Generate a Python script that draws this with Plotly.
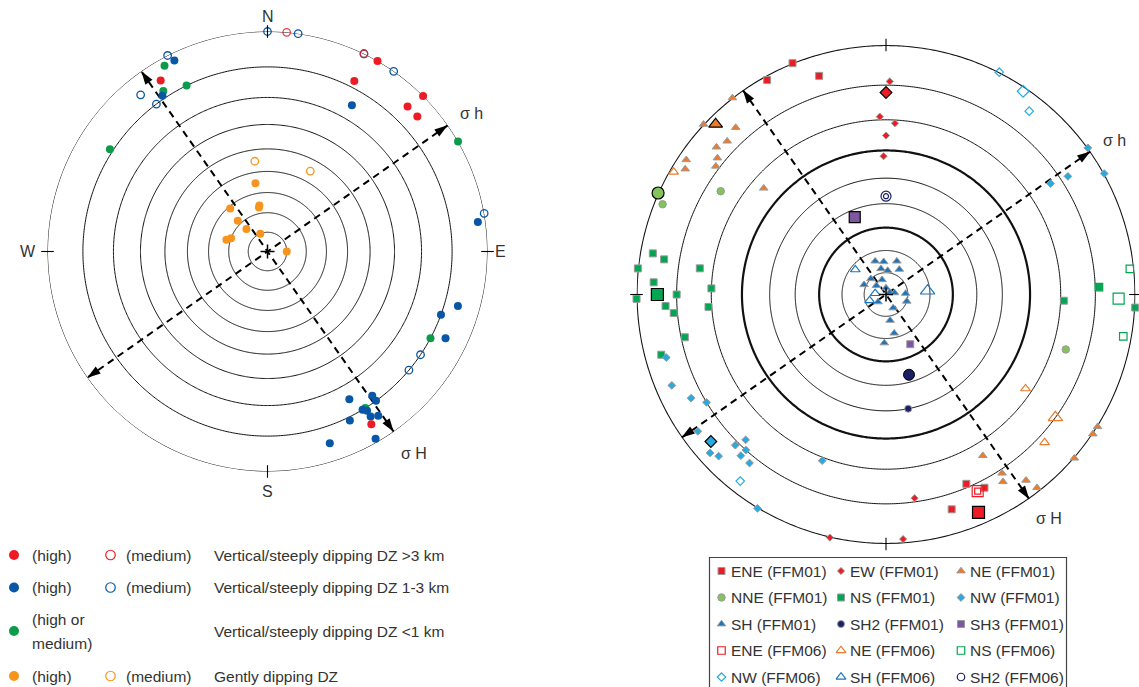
import numpy as np
import plotly.graph_objects as go

W, H = 1139, 687
FONT = "Liberation Sans, Arial, sans-serif"
TXT = "#333333"

# ================= DATA (trend deg, plunge deg) =================
# Left stereonet - deformation zones
dz_gt3_high = [(30, 0), (27, 8), (45, 0), (44, 5), (48, 5), (328, 5), (149, 5)]
dz_gt3_med = [(5, 0), (26, 0)]
dz_1to3_high = [(334, 2), (326, 9), (30, 15), (82, 2), (106, 6), (110, 10), (116, 6),
                (144, 12), (144, 10), (151, 15), (149, 10), (148, 9), (148, 7),
                (146, 6), (154, 9), (162, 5), (150, 1)]
dz_1to3_med = [(0, 0), (8, 0), (35, 0), (333, 0), (321, 5), (323, 10), (80, 0),
               (124, 10), (130, 10), (26, 0)]
dz_lt1 = [(331, 2), (334, 10), (327, 8), (303, 9), (60, 0), (118, 10), (148, 10)]
gentle_high = [(350, 55), (350, 66), (349, 67), (319, 61), (316, 68), (317, 74),
               (338, 80), (286, 68), (290, 70), (90, 80)]
gentle_med = [(352, 45), (28, 45)]

# Right stereonet - fracture sets
ene_ffm01 = [(338, 0), (331, 1), (343, 5), (157, 11), (153, 8), (163, 6)]
ene_ffm01_mean = [(157, 3)]
ew_ffm01 = [(1, 9), (358, 19), (3, 21), (0, 25), (359, 32), (172, 11), (193, 0), (176, 1)]
ew_ffm01_mean = [(0, 12)]
ne_ffm01 = [(322, 0), (313, 0), (318, 6), (314, 7), (311, 6), (304, 2), (309, 8),
            (307, 9), (302, 3), (311, 24), (149, 16), (147, 9), (148, 7), (143, 4),
            (142, 1), (131, 0), (124, 0), (122, 0)]
ne_ffm01_mean = [(315, 2)]
nne_ffm01 = [(292, 2), (302, 14), (107, 16)]
nne_ffm01_mean = [(294, 0)]
ns_ffm01 = [(280, 3), (279, 6), (276, 0), (278, 16), (273, 4), (272, 20), (270, 10),
            (269, 0), (267, 7), (265, 9), (266, 19), (258, 11), (255, 4), (92, 19),
            (93, 0), (88, 9)]
ns_ffm01_mean = [(270, 5)]
nw_ffm01 = [(254, 5), (247, 4), (242, 7), (239, 10), (234, 4), (224, 12), (225, 9),
            (222, 10), (228, 3), (226, 4), (222, 8), (219, 8), (201, 19), (211, 0),
            (54, 0), (57, 8), (61, 0), (56, 13)]
nw_ffm01_mean = [(230, 5)]
sh_ffm01 = [(342, 74), (356, 75), (18, 74), (349, 78), (4, 79), (28, 77), (316, 80),
            (345, 83), (294, 79), (313, 84), (0, 87), (60, 88), (79, 86), (87, 81),
            (227, 85), (108, 80), (152, 83), (171, 78), (168, 72), (182, 68)]
sh2_ffm01 = [(169, 40)]
sh2_ffm01_mean = [(164, 53)]
sh3_ffm01 = [(154, 65)]
sh3_ffm01_mean = [(338, 53)]
ene_ffm06 = [(155, 8)]
ene_ffm06_mean = [(155, 8)]
ne_ffm06 = [(300, 1), (124, 22), (133, 8)]
ne_ffm06_mean = [(126, 10)]
ns_ffm06 = [(84, 1), (88, 9), (100, 2)]
ns_ffm06_mean = [(91, 4)]
nw_ffm06 = [(27, 0), (38, 4), (218, 3)]
nw_ffm06_mean = [(34, 1)]
sh_ffm06 = [(309, 72), (276, 85), (250, 82)]
sh_ffm06_mean = [(85, 71)]
sh2_ffm06 = [(0, 47)]
sh2_ffm06_mean = [(0, 47)]

# stress directions (trend) and net rings (plunge)
sigma_H_trend = 145
sigma_h_trend = 55
ring_plunges = [0, 10, 20, 30, 40, 50, 60, 70, 80]
bold_rings_right = [0, 30, 60]
cardinal = ["N", "E", "S", "W"]

left_legend_rows = [
    ("(high)", "(medium)", "Vertical/steeply dipping DZ >3 km"),
    ("(high)", "(medium)", "Vertical/steeply dipping DZ 1-3 km"),
    ("(high or|medium)", None, "Vertical/steeply dipping DZ <1 km"),
    ("(high)", "(medium)", "Gently dipping DZ"),
]
right_legend_labels = ["ENE (FFM01)", "EW (FFM01)", "NE (FFM01)",
                       "NNE (FFM01)", "NS (FFM01)", "NW (FFM01)",
                       "SH (FFM01)", "SH2 (FFM01)", "SH3 (FFM01)",
                       "ENE (FFM06)", "NE (FFM06)", "NS (FFM06)",
                       "NW (FFM06)", "SH (FFM06)", "SH2 (FFM06)"]


def wulff_r(plunge):
    return np.tan(np.radians(90.0 - np.asarray(plunge, float)) / 2.0)


# ================= STYLE / LAYOUT =================
RED = "#ED1C24"
BLUE_L = "#0757A6"
GREEN_L = "#0B9B4A"
ORANGE_L = "#F7941D"
ORANGE_R = "#EC7B2C"
LGREEN = "#84C35A"
GREEN_R = "#00A651"
CYAN = "#27AAE1"
BLUE_R = "#1B75BC"
NAVY = "#1B1F63"
PURPLE = "#7E57A1"
GRAY = "#9b9b9b"

fig = go.Figure()

# geometry (pixels)
L_C, L_R = (267.5, 251.5), 220.0
R_C, R_R = (886.0, 294.5), 249.5

ann = []


def dom(c, R):
    return dict(x=[(c[0] - R) / W, (c[0] + R) / W],
                y=[1 - (c[1] + R) / H, 1 - (c[1] - R) / H])


def polar_label(c, R, theta, rr, text, size=16):
    t = np.radians(theta)
    ann.append(dict(x=c[0] + rr * R * np.sin(t), y=c[1] - rr * R * np.cos(t),
                    text=text, xanchor="center", size=size))


def add_pts(pts, sp, symbol, size, color, lc=None, lw=0, opacity=1):
    if not pts:
        return
    fig.add_trace(go.Scatterpolar(
        r=wulff_r([p[1] for p in pts]), theta=[p[0] for p in pts],
        mode="markers", subplot=sp, cliponaxis=False, hoverinfo="skip",
        showlegend=False,
        marker=dict(symbol=symbol, size=size, color=color, opacity=opacity,
                    line=dict(color=lc if lc else color, width=lw))))


def add_net(sp, bold):
    th = np.linspace(0, 360, 721)
    for p in ring_plunges:
        fig.add_trace(go.Scatterpolar(
            r=np.full(th.shape, wulff_r(p)), theta=th, mode="lines", subplot=sp,
            cliponaxis=False, hoverinfo="skip", showlegend=False,
            line=dict(color="#111111", width=2.2 if p in bold else 1.0)))


def add_stress(sp, c, R, lab_r_h, lab_r_H):
    for tr in (sigma_H_trend, sigma_h_trend):
        fig.add_trace(go.Scatterpolar(
            r=[1, 1], theta=[tr, tr + 180], mode="lines", subplot=sp,
            cliponaxis=False, hoverinfo="skip", showlegend=False,
            line=dict(color="black", width=2, dash="7px,5px")))
        fig.add_trace(go.Scatterpolar(
            r=[1, 1], theta=[tr, tr + 180], mode="markers", subplot=sp,
            cliponaxis=False, hoverinfo="skip", showlegend=False,
            marker=dict(symbol="arrow", size=14, color="black",
                        angle=[tr, tr + 180], line=dict(width=0))))
    polar_label(c, R, sigma_h_trend + 1, lab_r_h, "σ h")
    polar_label(c, R, sigma_H_trend - 1, lab_r_H, "σ H")


def add_ticks(sp):
    fig.add_trace(go.Scatterpolar(
        r=[1, 1, 1, 1], theta=[0, 90, 180, 270], mode="markers", subplot=sp,
        cliponaxis=False, hoverinfo="skip", showlegend=False,
        marker=dict(symbol="line-ns", size=9, angle=[0, 90, 180, 270],
                    color="black", line=dict(color="black", width=1.1))))
    fig.add_trace(go.Scatterpolar(
        r=[0], theta=[0], mode="markers", subplot=sp, cliponaxis=False,
        hoverinfo="skip", showlegend=False,
        marker=dict(symbol="cross-thin", size=10, color="black",
                    line=dict(color="black", width=1.5))))


# ---------------- left net ----------------
add_net("polar", [])
add_stress("polar", L_C, L_R, 1.12, 1.135)
add_pts(dz_lt1, "polar", "circle", 8, GREEN_L)
add_pts(dz_1to3_high, "polar", "circle", 8, BLUE_L)
add_pts(dz_1to3_med, "polar", "circle-open", 7.5, BLUE_L, lw=1.3)
add_pts(dz_gt3_high, "polar", "circle", 8, RED)
add_pts(dz_gt3_med, "polar", "circle-open", 7.5, RED, lw=1.3, opacity=0.85)
add_pts(gentle_high, "polar", "circle", 8, ORANGE_L)
add_pts(gentle_med, "polar", "circle-open", 7.5, ORANGE_L, lw=1.3)
add_ticks("polar")
for lab, th, rr in zip(cardinal, [0, 90, 180, 270], [1.066, 1.06, 1.09, 1.09]):
    polar_label(L_C, L_R, th, rr, lab)

# ---------------- right net ----------------
add_net("polar2", bold_rings_right)
add_stress("polar2", R_C, R_R, 1.103, 1.109)

small = dict(lc=GRAY, lw=1)
right_styles = {
    "ENE (FFM01)": dict(symbol="square", size=7, color=RED, **small),
    "EW (FFM01)": dict(symbol="diamond", size=5.5, color=RED, **small),
    "NE (FFM01)": dict(symbol="triangle-up", size=7.5, color=ORANGE_R, **small),
    "NNE (FFM01)": dict(symbol="circle", size=7.5, color=LGREEN, **small),
    "NS (FFM01)": dict(symbol="square", size=7, color=GREEN_R, **small),
    "NW (FFM01)": dict(symbol="diamond", size=6, color=CYAN, **small),
    "SH (FFM01)": dict(symbol="triangle-up", size=7.5, color=BLUE_R, **small),
    "SH2 (FFM01)": dict(symbol="circle", size=7, color=NAVY, **small),
    "SH3 (FFM01)": dict(symbol="square", size=7, color=PURPLE, **small),
    "ENE (FFM06)": dict(symbol="square-open", size=7.5, color=RED, lw=1.2),
    "NE (FFM06)": dict(symbol="triangle-up-open", size=8.5, color=ORANGE_R, lw=1.2),
    "NS (FFM06)": dict(symbol="square-open", size=7.5, color=GREEN_R, lw=1.2),
    "NW (FFM06)": dict(symbol="diamond-open", size=6.5, color=CYAN, lw=1.2),
    "SH (FFM06)": dict(symbol="triangle-up-open", size=8.5, color=BLUE_R, lw=1.2),
    "SH2 (FFM06)": dict(symbol="circle-open", size=7.5, color=NAVY, lw=1.2),
}
right_data = {
    "ENE (FFM01)": ene_ffm01, "EW (FFM01)": ew_ffm01, "NE (FFM01)": ne_ffm01,
    "NNE (FFM01)": nne_ffm01, "NS (FFM01)": ns_ffm01, "NW (FFM01)": nw_ffm01,
    "SH (FFM01)": sh_ffm01, "SH2 (FFM01)": sh2_ffm01, "SH3 (FFM01)": sh3_ffm01,
    "ENE (FFM06)": [], "NE (FFM06)": ne_ffm06, "NS (FFM06)": ns_ffm06,
    "NW (FFM06)": nw_ffm06, "SH (FFM06)": sh_ffm06, "SH2 (FFM06)": [],
}
for name in right_legend_labels:
    add_pts(right_data[name], "polar2", **right_styles[name])

# representative (larger) symbols
add_pts(ene_ffm01_mean, "polar2", "square", 12, RED, "black", 1.2)
add_pts(ew_ffm01_mean, "polar2", "diamond", 9, RED, "black", 1.2)
add_pts(ne_ffm01_mean, "polar2", "triangle-up", 12, ORANGE_R, "black", 1.2)
add_pts(nne_ffm01_mean, "polar2", "circle", 12, LGREEN, "black", 1.2)
add_pts(ns_ffm01_mean, "polar2", "square", 12, GREEN_R, "black", 1.2)
add_pts(nw_ffm01_mean, "polar2", "diamond", 9, CYAN, "black", 1.2)
add_pts(sh2_ffm01_mean, "polar2", "circle", 11, NAVY, "black", 1)
add_pts(sh3_ffm01_mean, "polar2", "square", 11, PURPLE, "black", 1.2)
add_pts(ene_ffm06_mean, "polar2", "square-open", 11, RED, lw=1.2)
add_pts(ene_ffm06, "polar2", "square-open", 6, RED, lw=1.2)
add_pts(ne_ffm06_mean, "polar2", "triangle-up-open", 12.5, ORANGE_R, lw=1.2)
add_pts(ns_ffm06_mean, "polar2", "square-open", 11, GREEN_R, lw=1.2)
add_pts(nw_ffm06_mean, "polar2", "diamond-open", 9, CYAN, lw=1.2)
add_pts(sh_ffm06_mean, "polar2", "triangle-up-open", 12.5, BLUE_R, lw=1.2)
add_pts(sh2_ffm06_mean, "polar2", "circle-open", 10, NAVY, lw=1.2)
add_pts(sh2_ffm06, "polar2", "circle-open", 5, NAVY, lw=1.2)
add_ticks("polar2")

# ---------------- legends (pixel-space helper axes) ----------------
LEG = 15.5
l_rows_y = [555, 587.5, 631, 676]
left_colors = [RED, BLUE_L, GREEN_L, ORANGE_L]
for (hi, med, desc), y, col in zip(left_legend_rows, l_rows_y, left_colors):
    fig.add_trace(go.Scatter(x=[14], y=[y], mode="markers", cliponaxis=False,
                             hoverinfo="skip", showlegend=False,
                             marker=dict(symbol="circle", size=10, color=col)))
    if "|" in hi:
        a, b = hi.split("|")
        ann.append(dict(x=30, y=y - 12, text=a, size=LEG))
        ann.append(dict(x=30, y=y + 12, text=b, size=LEG))
    else:
        ann.append(dict(x=30, y=y, text=hi, size=LEG))
    if med:
        fig.add_trace(go.Scatter(x=[110.5], y=[y], mode="markers", cliponaxis=False,
                                 hoverinfo="skip", showlegend=False,
                                 marker=dict(symbol="circle-open", size=9.5, color=col,
                                             line=dict(width=1.2))))
        ann.append(dict(x=124, y=y, text=med, size=LEG))
    ann.append(dict(x=212, y=y, text=desc, size=LEG))

r_cols_x = [721.5, 841, 961]
r_rows_y = [571, 597.5, 624, 650.5, 677]
for i, name in enumerate(right_legend_labels):
    x = r_cols_x[i % 3]
    y = r_rows_y[i // 3]
    st = right_styles[name]
    fig.add_trace(go.Scatter(
        x=[x], y=[y], mode="markers", cliponaxis=False, hoverinfo="skip",
        showlegend=False,
        marker=dict(symbol=st["symbol"], size=st["size"], color=st["color"],
                    line=dict(color=st.get("lc", st["color"]), width=st["lw"]))))
    ann.append(dict(x=x + 7, y=y, text=name, size=LEG))

annotations = []
for a in ann:
    annotations.append(dict(x=a["x"], y=a["y"], text=a["text"], xref="x", yref="y",
                            xanchor=a.get("xanchor", "left"), yanchor="middle",
                            showarrow=False,
                            font=dict(family=FONT, size=a["size"], color=TXT)))

polar_common = dict(
    bgcolor="rgba(0,0,0,0)",
    radialaxis=dict(range=[0, 1], visible=False),
    angularaxis=dict(rotation=90, direction="clockwise", showgrid=False,
                     showticklabels=False, ticks="", showline=False),
)

fig.update_layout(
    width=W, height=H, margin=dict(l=0, r=0, t=0, b=0),
    paper_bgcolor="white", plot_bgcolor="rgba(0,0,0,0)",
    showlegend=False,
    polar=dict(domain=dom(L_C, L_R), **polar_common),
    polar2=dict(domain=dom(R_C, R_R), **polar_common),
    xaxis=dict(domain=[0, 1], range=[0, W], visible=False, fixedrange=True),
    yaxis=dict(domain=[0, 1], range=[H, 0], visible=False, fixedrange=True),
    annotations=annotations,
    shapes=[dict(type="rect", xref="x", yref="y", x0=709.5, x1=1066.5, y0=557.5,
                 y1=H + 5, line=dict(color="#444444", width=1.2))],
)

fig.write_html("out.html")
